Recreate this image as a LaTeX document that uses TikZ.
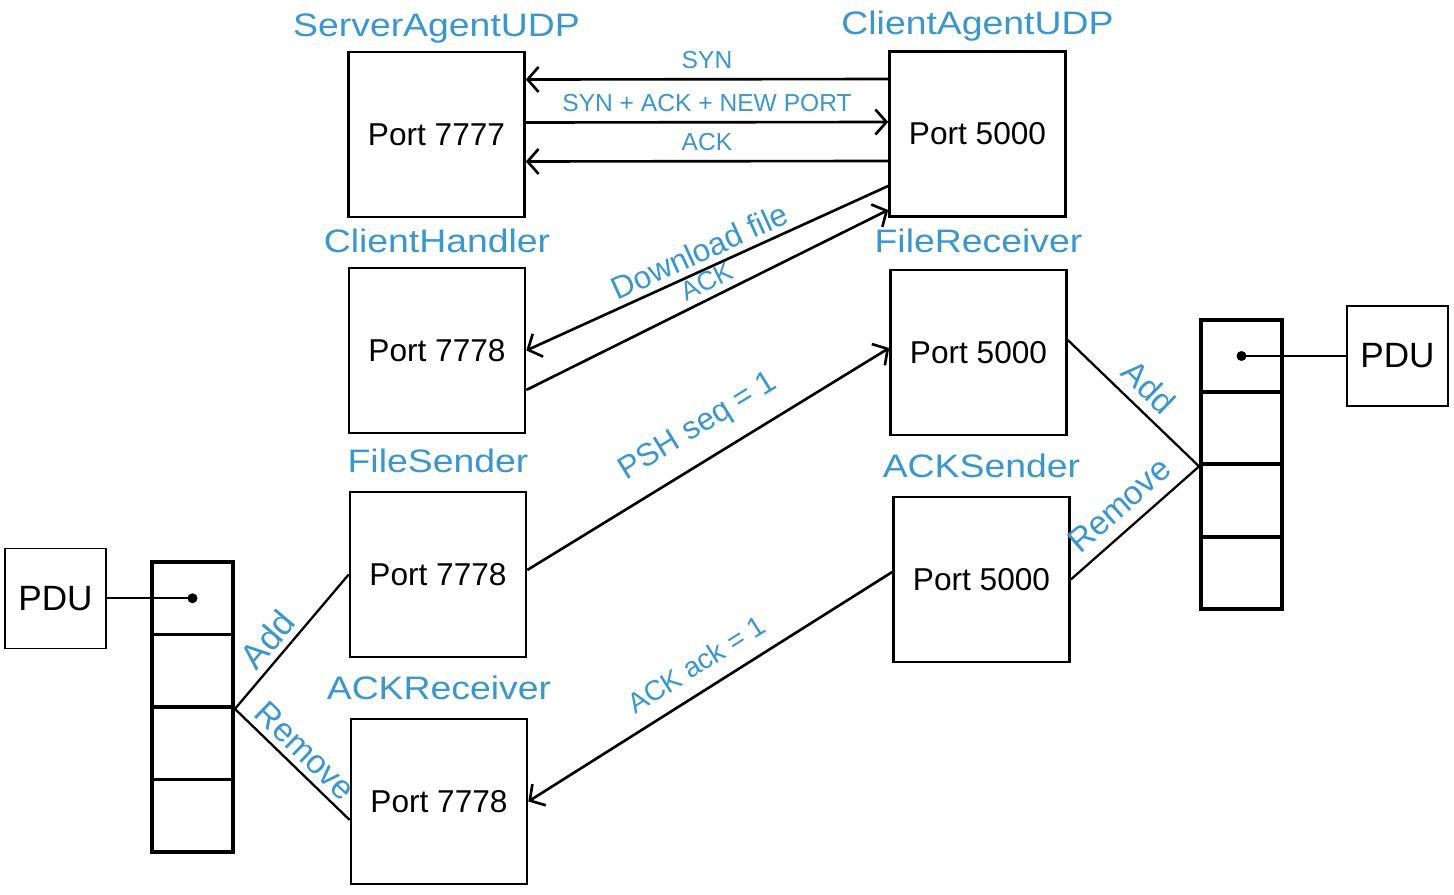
\documentclass[tikz,border=0pt]{standalone}
\usepackage{fontspec}
\setmainfont{Liberation Sans}
\newfontfamily\titlefont[FakeStretch=1.15]{Liberation Sans}
\usepackage{tikz}
\usetikzlibrary{positioning, arrows.meta}
\definecolor{bleu}{RGB}{58,150,204}
\tikzstyle{agent}=[rectangle, draw=black, line width=1.5pt, minimum width=3.52cm, minimum height=3.3cm, font=\fontsize{18}{20}\selectfont]
\tikzstyle{titre}=[text=bleu, inner sep=0pt, text depth=0pt, font=\titlefont\fontsize{18.5}{20}\selectfont]
\tikzstyle{msg}=[draw=black, line width=1.5pt, -{Straight Barb[length=2.2mm,width=5mm]}]
\tikzstyle{etiq}=[text=bleu, font=\fontsize{14}{16}\selectfont]
\tikzstyle{etiqpente}=[text=bleu, sloped, font=\fontsize{18}{20}\selectfont]
\tikzstyle{cell}=[rectangle, draw=black, line width=2.2pt, minimum width=1.62cm, minimum height=1.45cm]
\tikzstyle{pdu}=[rectangle, draw=black, line width=0.8pt, minimum width=2.02cm, minimum height=2cm, font=\fontsize{20}{22}\selectfont]
\tikzstyle{lien}=[draw=black, line width=1.3pt]

\begin{document}
\begin{tikzpicture}[x=0.02cm, y=-0.02cm]
    \useasboundingbox (0,0) rectangle (1454,895);

    % Les agents
    \node[agent] (srv) at (436.5,134.5) {Port 7777};
    \node[agent] (cli) at (977.5,134) {Port 5000};
    \node[agent] (ch) at (437,350.5) {Port 7778};
    \node[agent] (fr) at (978.5,352.5) {Port 5000};
    \node[agent] (fs) at (438,574.5) {Port 7778};
    \node[agent] (as) at (981.5,579.5) {Port 5000};
    \node[agent] (ar) at (439,801.5) {Port 7778};

    % Les titres
    \node[titre, above=8pt of srv] {ServerAgentUDP};
    \node[titre, above=9pt of cli] {ClientAgentUDP};
    \node[titre, above=8pt of ch] {ClientHandler};
    \node[titre, above=9pt of fr] {FileReceiver};
    \node[titre, above=10pt of fs] {FileSender};
    \node[titre, above=10pt of as] {ACKSender};
    \node[titre, above=10pt of ar] {ACKReceiver};

    % Les files
    \foreach \i/\y in {1/598.25, 2/670.75, 3/743.25, 4/815.75}
        \node[cell] (lq\i) at (192.5,\y) {};
    \foreach \i/\y in {1/356, 2/428.25, 3/500.5, 4/572.75}
        \node[cell] (rq\i) at (1241.5,\y) {};
    \node[pdu] (lpdu) at (55.5,598.25) {PDU};
    \node[pdu] (rpdu) at (1397.5,356) {PDU};

    % Les liens
    \draw[lien] (lpdu) -- (lq1.center);
    \fill (lq1.center) circle (0.1cm);
    \draw[lien] (rpdu) -- (rq1.center);
    \fill (rq1.center) circle (0.1cm);
    \draw[lien] (lq2.south east) -- node[etiqpente, above, pos=0.42, font=\fontsize{20}{22}\selectfont] {Add} (fs.west);
    \draw[lien] (lq2.south east) -- node[etiqpente, above, font=\fontsize{19}{21}\selectfont] {Remove} ([yshift=-0.37cm]ar.west);
    \draw[lien] ([yshift=0.25cm]fr.east) -- node[etiqpente, above=2pt, font=\fontsize{19}{21}\selectfont] {Add} (rq2.south west);
    \draw[lien] (as.east) -- node[etiqpente, above=3pt, font=\fontsize{19}{21}\selectfont] {Remove} (rq2.south west);

    % Les messages
    \draw[msg] ([yshift=1.1cm]cli.west) -- node[etiq, above=2pt] {SYN} ([yshift=1.1cm]srv.east);
    \draw[msg] ([yshift=0.24cm]srv.east) -- node[etiq, above=2pt] {SYN + ACK + NEW PORT} ([yshift=0.24cm]cli.west);
    \draw[msg] ([yshift=-0.54cm]cli.west) -- node[etiq, above=2pt] {ACK} ([yshift=-0.54cm]srv.east);
    \draw[msg] ([yshift=-1.04cm]cli.west) -- node[etiqpente, above] {Download file} (ch.east);
    \draw[msg] ([yshift=-0.79cm]ch.east) -- node[etiqpente, above, pos=0.52, font=\fontsize{15}{17}\selectfont] {ACK} ([yshift=-1.52cm]cli.west);
    \draw[msg] ([yshift=0.09cm]fs.east) -- node[etiqpente, above=6pt, pos=0.52] {PSH seq = 1} ([yshift=0.09cm]fr.west);
    \draw[msg] ([yshift=0.15cm]as.west) -- node[etiqpente, above=5pt, font=\fontsize{16}{18}\selectfont] {ACK ack = 1} (ar.east);
\end{tikzpicture}
\end{document}
